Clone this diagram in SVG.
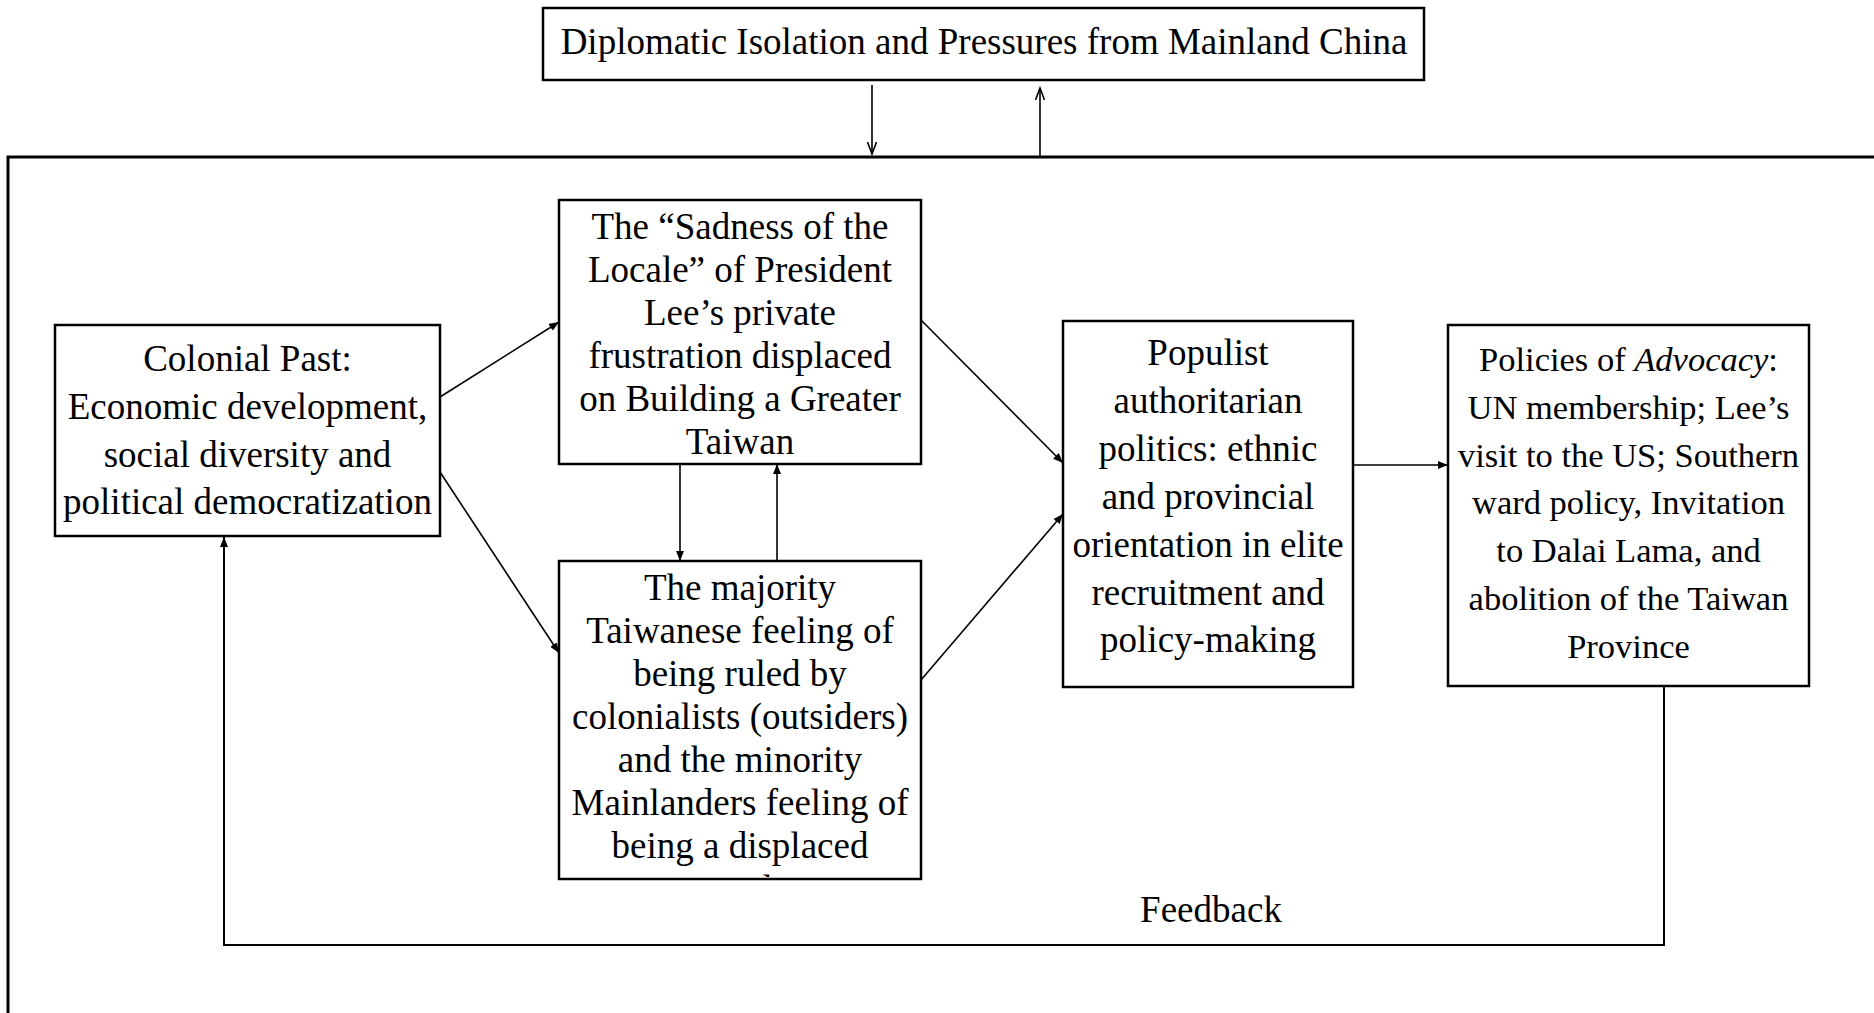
<svg xmlns="http://www.w3.org/2000/svg" width="1874" height="1013" viewBox="0 0 1874 1013">
<style>
  .box { fill: #ffffff; stroke: #000000; stroke-width: 2.5; }
  .frame { fill: none; stroke: #000000; stroke-width: 3; }
  .t { font-family: "Liberation Serif", "Times New Roman", serif; font-size: 37px; fill: #000000; text-anchor: middle; }
  .t2 { font-family: "Liberation Serif", "Times New Roman", serif; font-size: 34.5px; fill: #000000; text-anchor: middle; }
  .c { fill: none; stroke: #000000; stroke-width: 1.6; }
  .fb { fill: none; stroke: #000000; stroke-width: 2; }
</style>
<defs>
  <marker id="ah" markerUnits="userSpaceOnUse" markerWidth="12" markerHeight="10" refX="10" refY="4" orient="auto">
    <path d="M0,0 L10,4 L0,8 z" fill="#000000"/>
  </marker>
  <marker id="av" markerUnits="userSpaceOnUse" markerWidth="14" markerHeight="12" refX="12" refY="5" orient="auto">
    <path d="M0,0.5 L12,5 L0,9.5" fill="none" stroke="#000000" stroke-width="1.6"/>
  </marker>
  <clipPath id="clipMaj">
    <rect x="561" y="563" width="358" height="314"/>
  </clipPath>
</defs>

<rect width="1874" height="1013" fill="#ffffff"/>

<g id="frame">
  <rect class="frame" x="8" y="157" width="1900" height="900"/>
</g>

<g id="connectors">
  <line class="c" x1="872" y1="85" x2="872" y2="154" marker-end="url(#av)"/>
  <line class="c" x1="1040" y1="157" x2="1040" y2="88" marker-end="url(#av)"/>
  <line class="c" x1="440" y1="397" x2="559" y2="322" marker-end="url(#ah)"/>
  <line class="c" x1="440" y1="472" x2="559" y2="653" marker-end="url(#ah)"/>
  <line class="c" x1="680" y1="464" x2="680" y2="561" marker-end="url(#ah)"/>
  <line class="c" x1="777" y1="561" x2="777" y2="464" marker-end="url(#ah)"/>
  <line class="c" x1="921" y1="320" x2="1063" y2="463" marker-end="url(#ah)"/>
  <line class="c" x1="921" y1="680" x2="1063" y2="514" marker-end="url(#ah)"/>
  <line class="c" x1="1353" y1="465" x2="1448" y2="465" marker-end="url(#ah)"/>
  <polyline class="fb" points="1664,686 1664,945 224,945 224,537" marker-end="url(#ah)"/>
</g>

<g id="n-diplomatic">
  <rect class="box" x="543" y="8" width="881" height="72"/>
  <text class="t" x="984" y="54">Diplomatic Isolation and Pressures from Mainland China</text>
</g>

<g id="n-colonial">
  <rect class="box" x="55" y="325" width="385" height="211"/>
  <text class="t" x="247.5" y="371">Colonial Past:</text>
  <text class="t" x="247.5" y="418.8">Economic development,</text>
  <text class="t" x="247.5" y="466.6">social diversity and</text>
  <text class="t" x="247.5" y="514.4">political democratization</text>
</g>

<g id="n-sadness">
  <rect class="box" x="559" y="200" width="362" height="264"/>
  <text class="t" x="740" y="239">The “Sadness of the</text>
  <text class="t" x="740" y="282">Locale” of President</text>
  <text class="t" x="740" y="325">Lee’s private</text>
  <text class="t" x="740" y="368">frustration displaced</text>
  <text class="t" x="740" y="411">on Building a Greater</text>
  <text class="t" x="740" y="454">Taiwan</text>
</g>

<g id="n-majority">
  <rect class="box" x="559" y="561" width="362" height="318"/>
  <text class="t" x="740" y="600">The majority</text>
  <text class="t" x="740" y="643">Taiwanese feeling of</text>
  <text class="t" x="740" y="686">being ruled by</text>
  <text class="t" x="740" y="729">colonialists (outsiders)</text>
  <text class="t" x="740" y="772">and the minority</text>
  <text class="t" x="740" y="815">Mainlanders feeling of</text>
  <text class="t" x="740" y="858">being a displaced</text>
  <text class="t" x="740" y="901" clip-path="url(#clipMaj)">people</text>
</g>

<g id="n-populist">
  <rect class="box" x="1063" y="321" width="290" height="366"/>
  <text class="t" x="1208" y="365">Populist</text>
  <text class="t" x="1208" y="413">authoritarian</text>
  <text class="t" x="1208" y="461">politics: ethnic</text>
  <text class="t" x="1208" y="509">and provincial</text>
  <text class="t" x="1208" y="557">orientation in elite</text>
  <text class="t" x="1208" y="605">recruitment and</text>
  <text class="t" x="1208" y="652">policy-making</text>
</g>

<g id="n-policies">
  <rect class="box" x="1448" y="325" width="361" height="361"/>
  <text class="t2" x="1628.5" y="371">Policies of <tspan font-style="italic">Advocacy</tspan>:</text>
  <text class="t2" x="1628.5" y="418.8">UN membership; Lee’s</text>
  <text class="t2" x="1628.5" y="466.6">visit to the US; Southern</text>
  <text class="t2" x="1628.5" y="514.4">ward policy, Invitation</text>
  <text class="t2" x="1628.5" y="562.2">to Dalai Lama, and</text>
  <text class="t2" x="1628.5" y="610">abolition of the Taiwan</text>
  <text class="t2" x="1628.5" y="657.8">Province</text>
</g>

<g id="l-feedback">
  <text class="t" x="1211" y="922">Feedback</text>
</g>
</svg>
